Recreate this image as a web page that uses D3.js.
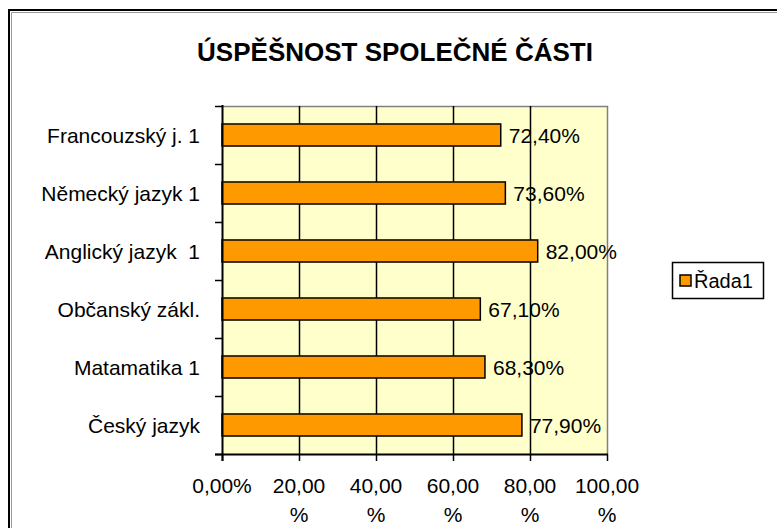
<!DOCTYPE html>
<html><head><meta charset="utf-8">
<script src="https://cdn.jsdelivr.net/npm/d3@7"></script>
<style>
html,body{margin:0;padding:0;background:#fff;}
svg{display:block;}
text{font-family:"Liberation Sans",Arial,sans-serif;fill:#000;white-space:pre;}
</style></head>
<body>
<svg id="c" width="777" height="528"></svg>
<script>
const title = "ÚSPĚŠNOST SPOLEČNÉ ČÁSTI";
const categories = ["Francouzský j. 1","Německý jazyk 1","Anglický jazyk  1","Občanský zákl.","Matamatika 1","Český jazyk"];
const values = [0.724, 0.736, 0.820, 0.671, 0.683, 0.779];
const valueLabels = ["72,40%","73,60%","82,00%","67,10%","68,30%","77,90%"];
const xTicks = [0, 0.2, 0.4, 0.6, 0.8, 1.0];
const xTickLabels = [["0,00%"],["20,00","%"],["40,00","%"],["60,00","%"],["80,00","%"],["100,00","%"]];
const seriesName = "Řada1";

const svg = d3.select("#c");
const L = 222, R = 607, T = 106, B = 454;

// outer chart border
svg.append("rect").attr("x",9).attr("y",10).attr("width",800).attr("height",600)
  .attr("fill","#fff").attr("stroke","#000").attr("stroke-width",2);
svg.append("path").attr("d","M11.5,800V12.5H800").attr("fill","none").attr("stroke","#9a9a9a").attr("stroke-width",1);

svg.append("text").attr("x",395).attr("y",61).attr("text-anchor","middle")
  .style("font-size","26px").style("font-weight","bold").text(title);

const x = d3.scaleLinear().domain([0,1]).range([L,R]);
const y = d3.scaleBand().domain(categories).range([T,B]).paddingInner(0.62).paddingOuter(0.31);

// plot background
svg.append("rect").attr("x",L).attr("y",T).attr("width",R-L).attr("height",B-T).attr("fill","#ffffcc");
// plot border (top/right grey)
svg.append("path").attr("d",`M${L},${T+0.5}H${R+0.5}V${B}`).attr("fill","none").attr("stroke","#808080").attr("stroke-width",1.5);

// gridlines
svg.append("g").selectAll("line").data(xTicks.filter(t=>t>0&&t<1)).join("line")
  .attr("x1",d=>Math.round(x(d))+0.5).attr("x2",d=>Math.round(x(d))+0.5)
  .attr("y1",T).attr("y2",B).attr("stroke","#000").attr("stroke-width",1.5);

// bars
svg.append("g").selectAll("rect").data(categories).join("rect")
  .attr("x",L).attr("y",(d)=>y(d))
  .attr("width",(d,i)=>x(values[i])-L).attr("height",y.bandwidth())
  .attr("fill","#ff9900").attr("stroke","#000").attr("stroke-width",1.5);

// data labels
svg.append("g").selectAll("text").data(categories).join("text")
  .attr("x",(d,i)=>x(values[i])+8).attr("y",d=>y(d)+y.bandwidth()/2).attr("dy","0.36em")
  .style("font-size","21px").text((d,i)=>valueLabels[i]);

// y axis
const step = y.step();
const gap = (step - y.bandwidth())/2;
const bounds = categories.map(c=>y(c)-gap).concat([B]);
svg.append("line").attr("x1",L+0.5).attr("x2",L+0.5).attr("y1",T-1).attr("y2",B+7).attr("stroke","#000").attr("stroke-width",2);
svg.append("g").selectAll("line").data(bounds).join("line")
  .attr("x1",L-7).attr("x2",L).attr("y1",d=>Math.round(d)+0.5).attr("y2",d=>Math.round(d)+0.5)
  .attr("stroke","#000").attr("stroke-width",1.5);
svg.append("g").selectAll("text").data(categories).join("text")
  .attr("x",200).attr("y",d=>y(d)+y.bandwidth()/2).attr("dy","0.36em").attr("text-anchor","end")
  .attr("xml:space","preserve")
  .style("font-size","21px").text(d=>d);

// x axis
svg.append("line").attr("x1",L-7).attr("x2",R+1).attr("y1",B+0.5).attr("y2",B+0.5).attr("stroke","#000").attr("stroke-width",2);
svg.append("g").selectAll("line").data(xTicks).join("line")
  .attr("x1",d=>Math.round(x(d))+0.5).attr("x2",d=>Math.round(x(d))+0.5)
  .attr("y1",B).attr("y2",B+7).attr("stroke","#000").attr("stroke-width",1.5);
const xl = svg.append("g").selectAll("text").data(xTicks).join("text")
  .attr("x",d=>x(d)).attr("y",493).attr("text-anchor","middle").style("font-size","21px");
xl.each(function(d,i){
  const t = d3.select(this);
  xTickLabels[i].forEach((s,j)=>{
    t.append("tspan").attr("x",x(d)).attr("dy",j===0?0:29).text(s);
  });
});

// legend
svg.append("rect").attr("x",672.5).attr("y",262.5).attr("width",91).attr("height",36)
  .attr("fill","#fff").attr("stroke","#000").attr("stroke-width",1.5);
svg.append("rect").attr("x",680).attr("y",275).attr("width",11).attr("height",11)
  .attr("fill","#ff9900").attr("stroke","#000").attr("stroke-width",1.5);
svg.append("text").attr("x",694).attr("y",288).style("font-size","20px").text(seriesName);
</script>
</body></html>
